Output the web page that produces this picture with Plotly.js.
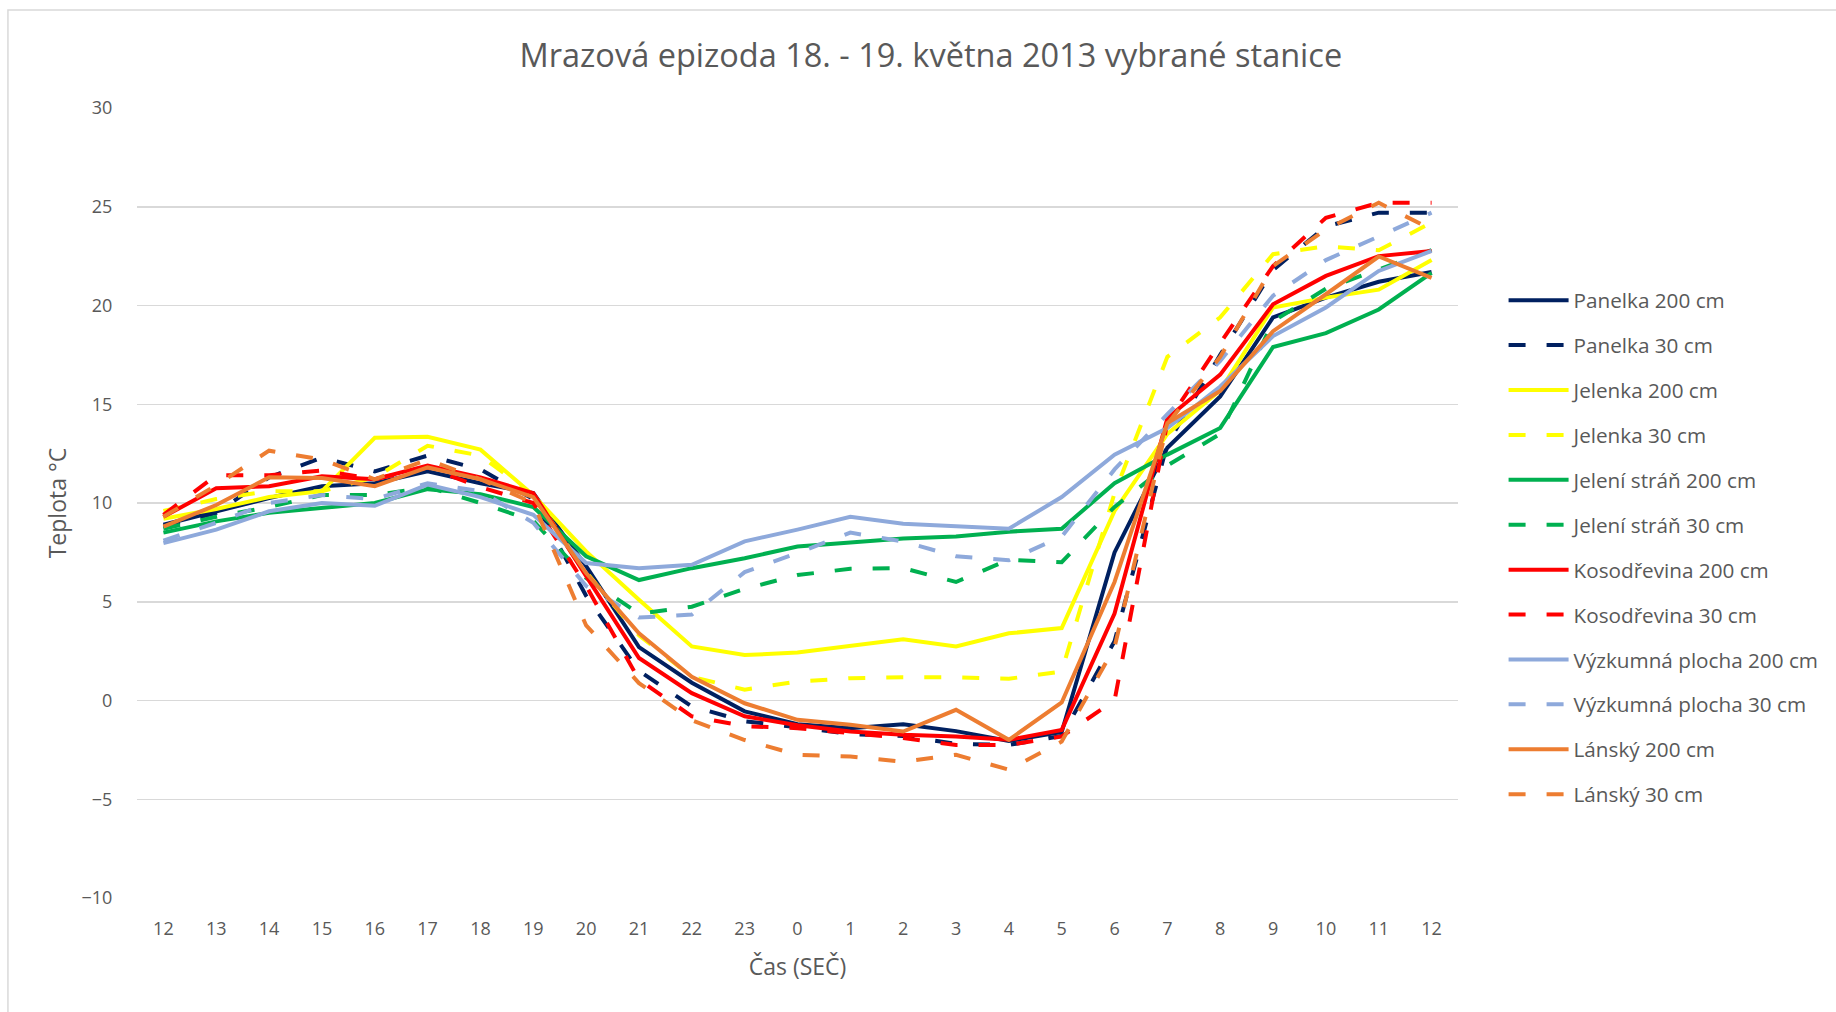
<!DOCTYPE html>
<html>
<head>
<meta charset="utf-8">
<script src="https://cdn.plot.ly/plotly-3.0.1.min.js"></script>
<style>
html,body{margin:0;padding:0;background:#fff;}
#chart{width:1836px;height:1012px;}
</style>
</head>
<body>
<div id="chart"></div>
<script>
// Hour labels (SEČ)
const hours = ["12","13","14","15","16","17","18","19","20","21","22","23","0","1","2","3","4","5","6","7","8","9","10","11","12"];

const panelka200 = [8.9, 9.6, 10.25, 10.85, 11.0, 11.6, 11.0, 10.5, 6.8, 2.7, 0.9, -0.55, -1.2, -1.4, -1.2, -1.55, -2.05, -1.6, 7.5, 12.8, 15.4, 19.4, 20.4, 21.2, 21.7];
const panelka30 = [8.8, 9.5, 11.3, 12.3, 11.6, 12.4, 11.7, 10.2, 5.3, 1.5, -0.3, -1.05, -1.35, -1.7, -1.8, -2.2, -2.25, -1.8, 3.0, 13.0, 17.5, 21.8, 24.0, 24.7, 24.7];
const jelenka200 = [9.2, 9.7, 10.3, 10.6, 13.3, 13.35, 12.7, 10.4, 7.55, 5.1, 2.74, 2.3, 2.43, 2.74, 3.1, 2.74, 3.4, 3.67, 9.6, 13.5, 15.7, 19.9, 20.4, 20.8, 22.3];
const jelenka30 = [9.6, 10.2, 10.6, 10.6, 11.3, 12.9, 12.4, 10.4, 6.5, 3.3, 1.2, 0.55, 0.96, 1.13, 1.18, 1.18, 1.1, 1.47, 10.5, 17.4, 19.4, 22.6, 23.0, 22.8, 24.2];
const jeleni200 = [8.5, 9.07, 9.5, 9.75, 10.0, 10.7, 10.45, 9.8, 7.3, 6.1, 6.7, 7.2, 7.8, 8.0, 8.2, 8.3, 8.55, 8.7, 11.0, 12.45, 13.8, 17.9, 18.6, 19.8, 21.65];
const jeleni30 = [8.7, 9.3, 9.8, 10.4, 10.4, 10.8, 10.0, 9.1, 6.2, 4.4, 4.75, 5.65, 6.35, 6.67, 6.7, 6.0, 7.13, 7.0, 9.8, 11.9, 13.5, 19.2, 20.85, 21.8, 22.8];
const kosodrevina200 = [9.3, 10.75, 10.85, 11.35, 11.2, 11.9, 11.3, 10.5, 6.3, 2.15, 0.37, -0.8, -1.25, -1.57, -1.74, -1.82, -1.99, -1.49, 4.4, 14.3, 16.5, 20.06, 21.5, 22.5, 22.76];
const kosodrevina30 = [9.4, 11.4, 11.4, 11.65, 11.2, 11.8, 10.8, 10.0, 5.8, 1.05, -0.8, -1.3, -1.4, -1.65, -1.9, -2.25, -2.25, -1.82, 0.0, 14.1, 18.1, 22.0, 24.44, 25.2, 25.2];
const vyzkumna200 = [7.97, 8.65, 9.58, 10.0, 9.86, 10.93, 10.3, 9.4, 6.96, 6.7, 6.87, 8.06, 8.65, 9.3, 8.95, 8.8, 8.7, 10.3, 12.45, 13.8, 15.9, 18.45, 19.9, 21.75, 22.76];
const vyzkumna30 = [8.1, 9.0, 10.0, 10.4, 10.2, 11.0, 10.6, 9.0, 5.8, 4.2, 4.35, 6.5, 7.47, 8.5, 8.05, 7.3, 7.1, 8.3, 11.7, 14.5, 17.2, 20.5, 22.3, 23.5, 24.7];
const lansky200 = [8.8, 9.9, 11.3, 11.27, 10.85, 11.8, 11.2, 10.3, 6.45, 3.4, 1.2, -0.14, -0.98, -1.23, -1.57, -0.47, -1.99, -0.1, 6.0, 14.05, 15.67, 18.7, 20.57, 22.48, 21.4];
const lansky30 = [9.3, 10.9, 12.65, 12.2, 11.2, 12.2, 11.2, 10.0, 3.8, 0.88, -1.0, -2.0, -2.75, -2.84, -3.1, -2.75, -3.5, -2.08, 2.7, 14.0, 17.4, 22.0, 23.85, 25.2, 23.85];

const seriesNames = ["Panelka 200 cm","Panelka 30 cm","Jelenka 200 cm","Jelenka 30 cm","Jelení stráň 200 cm","Jelení stráň 30 cm","Kosodřevina 200 cm","Kosodřevina 30 cm","Výzkumná plocha 200 cm","Výzkumná plocha 30 cm","Lánský 200 cm","Lánský 30 cm"];
const seriesValues = [panelka200, panelka30, jelenka200, jelenka30, jeleni200, jeleni30, kosodrevina200, kosodrevina30, vyzkumna200, vyzkumna30, lansky200, lansky30];
const seriesColors = ["#002060","#002060","#FFFF00","#FFFF00","#00B050","#00B050","#FF0000","#FF0000","#8EA9DB","#8EA9DB","#ED7D31","#ED7D31"];

const xIdx = hours.map((h, i) => i);

const traces = seriesValues.map((vals, k) => ({
  type: 'scatter',
  mode: 'lines',
  name: seriesNames[k],
  legendgroup: 'g' + k,
  x: xIdx,
  y: vals,
  line: {
    color: seriesColors[k],
    width: 4,
    dash: (k % 2 === 1) ? '17px,21px' : 'solid'
  }
}));

const FONT = 'Open Sans, sans-serif';
const TXT = '#595959';

const layout = {
  width: 1836,
  height: 1012,
  paper_bgcolor: '#ffffff',
  plot_bgcolor: '#ffffff',
  margin: {l: 137, r: 378, t: 108, b: 114},
  font: {family: FONT, color: TXT, size: 18},
  title: {
    text: 'Mrazová epizoda 18. - 19. května 2013 vybrané stanice',
    font: {family: FONT, size: 32.5, color: TXT},
    x: 0.507, xref: 'container', xanchor: 'center',
    y: 0.945, yref: 'container', yanchor: 'middle'
  },
  xaxis: {
    range: [-0.5, 24.5],
    tickmode: 'array',
    tickvals: xIdx,
    ticktext: hours,
    showgrid: false,
    zeroline: false,
    showline: false,
    ticks: 'outside', ticklen: 14, tickcolor: 'rgba(0,0,0,0)',
    tickfont: {family: FONT, size: 18, color: TXT},
    title: {text: 'Čas (SEČ)', font: {family: FONT, size: 23, color: TXT}, standoff: 20},
    automargin: false,
    fixedrange: true
  },
  yaxis: {
    range: [-10, 30],
    tick0: -10,
    dtick: 5,
    showgrid: true,
    gridcolor: '#D9D9D9',
    gridwidth: 1.5,
    zeroline: false,
    showline: false,
    ticks: 'outside', ticklen: 20, tickcolor: 'rgba(0,0,0,0)',
    tickfont: {family: FONT, size: 18, color: TXT},
    title: {text: 'Teplota °C', font: {family: FONT, size: 23, color: TXT}, standoff: 8},
    automargin: false,
    fixedrange: true
  },
  legend: {
    x: 1.0345, xanchor: 'left',
    y: 0.782, yanchor: 'top',
    font: {family: FONT, size: 20.7, color: TXT},
    bgcolor: 'rgba(0,0,0,0)',
    tracegroupgap: 15,
    itemwidth: 60,
    traceorder: 'grouped'
  },
  shapes: [{
    type: 'rect', xref: 'paper', yref: 'paper',
    x0: -0.0977, x1: 1.40, y0: -0.20, y1: 1.124,
    line: {color: '#D9D9D9', width: 1.5},
    fillcolor: 'rgba(0,0,0,0)', layer: 'below'
  }],
  showlegend: true
};

Plotly.newPlot('chart', traces, layout, {displayModeBar: false, staticPlot: true});
</script>
</body>
</html>
